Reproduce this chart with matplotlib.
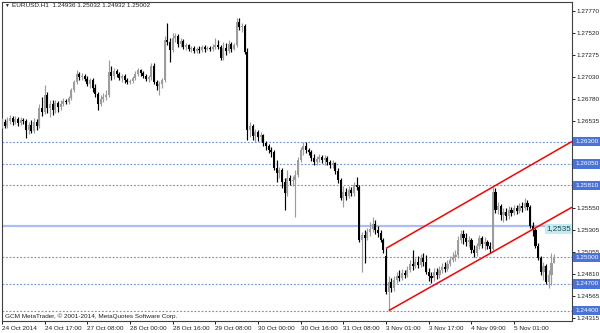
import matplotlib
matplotlib.use("Agg")
import matplotlib.pyplot as plt
from matplotlib.transforms import blended_transform_factory

# EURUSD H1 bars, 24 Oct 2014 - 5 Nov 2014
opens = [
    1.2649, 1.2652, 1.2648, 1.2653, 1.2657, 1.2652, 1.2656, 1.2651, 1.2654, 1.2653,
    1.2643, 1.2649, 1.2642, 1.2652, 1.2648, 1.2668, 1.2663, 1.2683, 1.2668, 1.2672,
    1.2666, 1.2674, 1.2669, 1.2672, 1.2676, 1.2675, 1.2679, 1.2688, 1.2697, 1.2706,
    1.2703, 1.2704, 1.2701, 1.2695, 1.2699, 1.2690, 1.2684, 1.2672, 1.2678, 1.2680,
    1.2683, 1.2708, 1.2704, 1.2710, 1.2706, 1.2702, 1.2704, 1.2699, 1.2697, 1.2698,
    1.2702, 1.2706, 1.2711, 1.2707, 1.2704, 1.2701, 1.2703, 1.2715, 1.2697, 1.2693,
    1.2695, 1.2699, 1.2744, 1.2742, 1.2733, 1.2747, 1.2749, 1.2740, 1.2743, 1.2737,
    1.2739, 1.2734, 1.2735, 1.2732, 1.2734, 1.2733, 1.2737, 1.2734, 1.2735, 1.2734,
    1.2737, 1.2739, 1.2737, 1.2724, 1.2735, 1.2732, 1.2740, 1.2734, 1.2739, 1.2765,
    1.2759, 1.2760, 1.2731, 1.2643, 1.2648, 1.2636, 1.2641, 1.2635, 1.2638, 1.2629,
    1.2625, 1.2621, 1.2618, 1.2600, 1.2595, 1.2598, 1.2585, 1.2572, 1.2589, 1.2586,
    1.2587, 1.2593, 1.2609, 1.2621, 1.2625, 1.2621, 1.2618, 1.2612, 1.2607, 1.2611,
    1.2613, 1.2609, 1.2612, 1.2607, 1.2604, 1.2606, 1.2597, 1.2587, 1.2567, 1.2573,
    1.2569, 1.2576, 1.2572, 1.2581, 1.2579, 1.2519, 1.2525, 1.2522, 1.2528, 1.2532,
    1.2537, 1.2531, 1.2527, 1.2519, 1.2501, 1.2461, 1.2472, 1.2465, 1.2474, 1.2479,
    1.2477, 1.2482, 1.2480, 1.2486, 1.2492, 1.2490, 1.2495, 1.2491, 1.2499, 1.2495,
    1.2483, 1.2479, 1.2477, 1.2483, 1.2480, 1.2486, 1.2489, 1.2487, 1.2492, 1.2497,
    1.2500, 1.2503, 1.2519, 1.2526, 1.2522, 1.2517, 1.2519, 1.2508, 1.2505, 1.2513,
    1.2522, 1.2515, 1.2517, 1.2513, 1.2509, 1.2573, 1.2553, 1.2558, 1.2548, 1.2551,
    1.2546, 1.2553, 1.2550, 1.2555, 1.2552, 1.2558, 1.2555, 1.2561, 1.2557, 1.2535,
    1.2531, 1.2513, 1.2499, 1.2483, 1.2490, 1.2472, 1.2480, 1.24936]

highs = [
    1.2657, 1.2656, 1.2658, 1.2660, 1.2659, 1.2659, 1.2658, 1.2658, 1.2657, 1.2656,
    1.2652, 1.2654, 1.2657, 1.2656, 1.2672, 1.2680, 1.2694, 1.2686, 1.2677, 1.2677,
    1.2677, 1.2676, 1.2677, 1.2679, 1.2678, 1.2681, 1.2690, 1.2699, 1.2711, 1.2708,
    1.2707, 1.2706, 1.2704, 1.2702, 1.2702, 1.2695, 1.2686, 1.2683, 1.2685, 1.2688,
    1.2722, 1.2715, 1.2713, 1.2712, 1.2708, 1.2706, 1.2706, 1.2702, 1.2701, 1.2704,
    1.2710, 1.2713, 1.2712, 1.2710, 1.2706, 1.2705, 1.2719, 1.2719, 1.2699, 1.2698,
    1.2702, 1.2749, 1.2764, 1.2747, 1.2752, 1.2752, 1.2751, 1.2747, 1.2746, 1.2741,
    1.2740, 1.2738, 1.2738, 1.2737, 1.2738, 1.2739, 1.2739, 1.2738, 1.2738, 1.2740,
    1.2747, 1.2744, 1.2739, 1.2742, 1.2741, 1.2744, 1.2742, 1.2741, 1.2769, 1.2769,
    1.2764, 1.2762, 1.2735, 1.2652, 1.2650, 1.2644, 1.2643, 1.2641, 1.2639, 1.2631,
    1.2627, 1.2624, 1.2621, 1.2609, 1.2602, 1.2600, 1.2589, 1.2598, 1.2593, 1.2591,
    1.2598, 1.2613, 1.2624, 1.2630, 1.2630, 1.2623, 1.2621, 1.2616, 1.2614, 1.2616,
    1.2615, 1.2615, 1.2614, 1.2609, 1.2609, 1.2607, 1.2600, 1.2589, 1.2580, 1.2578,
    1.2580, 1.2579, 1.2585, 1.2590, 1.2581, 1.2528, 1.2531, 1.2533, 1.2540, 1.2545,
    1.2542, 1.2535, 1.2531, 1.2522, 1.2510, 1.2479, 1.2477, 1.2479, 1.2483, 1.2486,
    1.2487, 1.2486, 1.2490, 1.2497, 1.2508, 1.2499, 1.2501, 1.2504, 1.2505, 1.2503,
    1.2488, 1.2483, 1.2488, 1.2488, 1.2490, 1.2494, 1.2495, 1.2497, 1.2501, 1.2506,
    1.2508, 1.2524, 1.2531, 1.2531, 1.2527, 1.2524, 1.2522, 1.2514, 1.2516, 1.2525,
    1.2524, 1.2523, 1.2519, 1.2517, 1.2579, 1.2578, 1.2562, 1.2560, 1.2555, 1.2555,
    1.2558, 1.2557, 1.2559, 1.2559, 1.2561, 1.2562, 1.2567, 1.2564, 1.2559, 1.2540,
    1.2533, 1.2516, 1.2501, 1.2495, 1.2492, 1.2486, 1.2505, 1.25032]

lows = [
    1.2645, 1.2645, 1.2645, 1.2650, 1.2649, 1.2650, 1.2648, 1.2649, 1.2650, 1.2634,
    1.2639, 1.2640, 1.2640, 1.2643, 1.2645, 1.2659, 1.2661, 1.2662, 1.2658, 1.2660,
    1.2662, 1.2663, 1.2666, 1.2670, 1.2672, 1.2672, 1.2677, 1.2686, 1.2695, 1.2699,
    1.2699, 1.2698, 1.2693, 1.2690, 1.2686, 1.2680, 1.2666, 1.2670, 1.2675, 1.2677,
    1.2680, 1.2699, 1.2701, 1.2703, 1.2699, 1.2697, 1.2696, 1.2695, 1.2695, 1.2696,
    1.2699, 1.2704, 1.2704, 1.2702, 1.2698, 1.2697, 1.2699, 1.2695, 1.2688, 1.2683,
    1.2690, 1.2697, 1.2739, 1.2720, 1.2731, 1.2742, 1.2737, 1.2737, 1.2734, 1.2733,
    1.2732, 1.2731, 1.2730, 1.2730, 1.2730, 1.2731, 1.2731, 1.2733, 1.2732, 1.2732,
    1.2734, 1.2734, 1.2722, 1.2722, 1.2728, 1.2730, 1.2731, 1.2733, 1.2737, 1.2756,
    1.2753, 1.2729, 1.2632, 1.2635, 1.2632, 1.2630, 1.2631, 1.2630, 1.2625, 1.2621,
    1.2617, 1.2613, 1.2598, 1.2585, 1.2589, 1.2578, 1.2553, 1.2569, 1.2581, 1.2580,
    1.2545, 1.2590, 1.2607, 1.2615, 1.2617, 1.2615, 1.2608, 1.2604, 1.2604, 1.2607,
    1.2606, 1.2604, 1.2604, 1.2600, 1.2600, 1.2594, 1.2584, 1.2564, 1.2557, 1.2564,
    1.2567, 1.2569, 1.2569, 1.2576, 1.2517, 1.2483, 1.2494, 1.2519, 1.2524, 1.2528,
    1.2526, 1.2523, 1.2517, 1.2505, 1.2459, 1.2440, 1.2461, 1.2462, 1.2471, 1.2473,
    1.2474, 1.2477, 1.2478, 1.2483, 1.2486, 1.2488, 1.2488, 1.2489, 1.2490, 1.2481,
    1.2473, 1.2471, 1.2473, 1.2476, 1.2477, 1.2482, 1.2483, 1.2485, 1.2490, 1.2495,
    1.2496, 1.2499, 1.2516, 1.2515, 1.2513, 1.2512, 1.2505, 1.2500, 1.2501, 1.2509,
    1.2510, 1.2508, 1.2509, 1.2505, 1.2506, 1.2550, 1.2549, 1.2542, 1.2540, 1.2542,
    1.2543, 1.2546, 1.2548, 1.2549, 1.2550, 1.2551, 1.2553, 1.2553, 1.2533, 1.2524,
    1.2510, 1.2497, 1.2480, 1.2474, 1.2470, 1.2465, 1.2469, 1.24932]

closes = [
    1.2652, 1.2648, 1.2653, 1.2657, 1.2652, 1.2656, 1.2651, 1.2654, 1.2653, 1.2643,
    1.2649, 1.2642, 1.2652, 1.2648, 1.2668, 1.2663, 1.2683, 1.2668, 1.2672, 1.2666,
    1.2674, 1.2669, 1.2672, 1.2676, 1.2675, 1.2679, 1.2688, 1.2697, 1.2706, 1.2703,
    1.2704, 1.2701, 1.2695, 1.2699, 1.2690, 1.2684, 1.2672, 1.2678, 1.2680, 1.2683,
    1.2708, 1.2704, 1.2710, 1.2706, 1.2702, 1.2704, 1.2699, 1.2697, 1.2698, 1.2702,
    1.2706, 1.2711, 1.2707, 1.2704, 1.2701, 1.2703, 1.2715, 1.2697, 1.2693, 1.2695,
    1.2699, 1.2744, 1.2742, 1.2733, 1.2747, 1.2749, 1.2740, 1.2743, 1.2737, 1.2739,
    1.2734, 1.2735, 1.2732, 1.2734, 1.2733, 1.2737, 1.2734, 1.2735, 1.2734, 1.2737,
    1.2739, 1.2737, 1.2724, 1.2735, 1.2732, 1.2740, 1.2734, 1.2739, 1.2765, 1.2759,
    1.2760, 1.2731, 1.2643, 1.2648, 1.2636, 1.2641, 1.2635, 1.2638, 1.2629, 1.2625,
    1.2621, 1.2618, 1.2600, 1.2595, 1.2598, 1.2585, 1.2572, 1.2589, 1.2586, 1.2587,
    1.2593, 1.2609, 1.2621, 1.2625, 1.2621, 1.2618, 1.2612, 1.2607, 1.2611, 1.2613,
    1.2609, 1.2612, 1.2607, 1.2604, 1.2606, 1.2597, 1.2587, 1.2567, 1.2573, 1.2569,
    1.2576, 1.2572, 1.2581, 1.2579, 1.2519, 1.2525, 1.2522, 1.2528, 1.2532, 1.2537,
    1.2531, 1.2527, 1.2519, 1.2508, 1.2461, 1.2472, 1.2465, 1.2474, 1.2479, 1.2477,
    1.2482, 1.2480, 1.2486, 1.2492, 1.2490, 1.2495, 1.2491, 1.2499, 1.2495, 1.2483,
    1.2479, 1.2477, 1.2483, 1.2480, 1.2486, 1.2489, 1.2487, 1.2492, 1.2497, 1.2500,
    1.2503, 1.2519, 1.2526, 1.2522, 1.2517, 1.2519, 1.2508, 1.2505, 1.2513, 1.2522,
    1.2515, 1.2517, 1.2513, 1.2509, 1.2573, 1.2553, 1.2558, 1.2548, 1.2551, 1.2546,
    1.2553, 1.2550, 1.2555, 1.2552, 1.2558, 1.2555, 1.2561, 1.2557, 1.2535, 1.2531,
    1.2513, 1.2499, 1.2483, 1.2490, 1.2472, 1.2480, 1.2494, 1.25002]

time_labels = ["24 Oct 2014", "24 Oct 17:00", "27 Oct 08:00", "28 Oct 00:00",
               "28 Oct 16:00", "29 Oct 08:00", "30 Oct 00:00", "30 Oct 16:00",
               "31 Oct 08:00", "3 Nov 01:00", "3 Nov 17:00", "4 Nov 09:00",
               "5 Nov 01:00"]
bars_per_label = 16

price_ticks = [1.27770, 1.27520, 1.27275, 1.27030, 1.26780, 1.26535,
               1.25550, 1.25305, 1.25055, 1.24810, 1.24565, 1.24315]
levels = [1.2630, 1.2605, 1.2581, 1.2500, 1.2470, 1.2440]
level_labels = ["1.26300", "1.26050", "1.25810", "1.25000", "1.24700", "1.24400"]
main_level = 1.2535
main_level_label = "1,2535"

# trend lines: two anchor points (bar, price), drawn as rays to the right
upper_line = [(144, 1.2510), (184, 1.2579)]
lower_line = [(145, 1.2440), (184, 1.2506)]

header = "EURUSD.H1  1.24936 1.25032 1.24932 1.25002"
footer = "GCM MetaTrader, \u00a9 2001-2014, MetaQuotes Software Corp."

plt.rcParams['font.family'] = ['Liberation Sans', 'DejaVu Sans']

fig = plt.figure(figsize=(6, 3.33), dpi=100)
ax = fig.add_axes([2 / 600, 12 / 333, 570 / 600, 319 / 333])
ax.set_xlim(0, 213.7)
ax.set_ylim(1.24283, 1.27871)

bull = '#9c9c9c'
bear = '#000000'
for i in range(len(opens)):
    o, h, l, c = opens[i], highs[i], lows[i], closes[i]
    col = bull if c >= o else bear
    ax.vlines(i, l, h, color=col, lw=0.85, zorder=3)
    ax.bar(i, max(abs(c - o), 0.00003), bottom=min(o, c), width=0.8,
           color=col, lw=0, zorder=4)

for lv in levels:
    ax.axhline(lv, color='#6f8fe6', lw=0.8, ls=(0, (1.6, 1.6)), zorder=1)
ax.axhline(main_level, color='#a9bff2', lw=1.6, zorder=1)

x_end = ax.get_xlim()[1]
for (x0, y0), (x1, y1) in [upper_line, lower_line]:
    slope = (y1 - y0) / (x1 - x0)
    ax.plot([x0, x_end], [y0, y0 + slope * (x_end - x0)], color='#ff0000',
            lw=1.1, zorder=5, solid_capstyle='butt')

ax.text(213.4, main_level - 0.0003, main_level_label, ha='right', va='center',
        fontsize=5.8, color='#1e4650', zorder=6,
        bbox=dict(boxstyle='square,pad=0.15', fc='#c4ebf2', ec='none'))

# right price scale
ax.yaxis.tick_right()
ax.set_yticks(price_ticks)
ax.set_yticklabels([f"{p:.5f}" for p in price_ticks])
ax.tick_params(axis='y', length=2, width=0.7, pad=1.5, labelsize=4.6,
               colors='#202020')
tr = blended_transform_factory(ax.transAxes, ax.transData)
for lv, txt in zip(levels, level_labels):
    ax.text(1.0 + 3.5 / 570, lv, txt, transform=tr, ha='left', va='center',
            fontsize=4.6, color='white', zorder=6,
            bbox=dict(boxstyle='square,pad=0.35', fc='#4a72d8', ec='none'))

# time scale
ax.set_xticks([k * bars_per_label for k in range(len(time_labels))])
ax.set_xticklabels(time_labels)
ax.tick_params(axis='x', length=2.5, width=0.7, pad=1.0, labelsize=4.6,
               colors='#202020')
for lab in ax.get_xticklabels():
    lab.set_ha('left')

for sp in ax.spines.values():
    sp.set_color('#404040')
    sp.set_linewidth(0.8)

ax.text(0.003, 0.988, "\u25bc", transform=ax.transAxes, fontsize=3.5,
        va='center', ha='left', color='#202020')
ax.text(0.0175, 0.988, header, transform=ax.transAxes, fontsize=4.6,
        va='center', ha='left', color='#202020')
ax.text(0.005, 0.016, footer, transform=ax.transAxes, fontsize=4.6,
        va='center', ha='left', color='#202020')

fig.savefig("out.png", dpi=100, facecolor='white')
